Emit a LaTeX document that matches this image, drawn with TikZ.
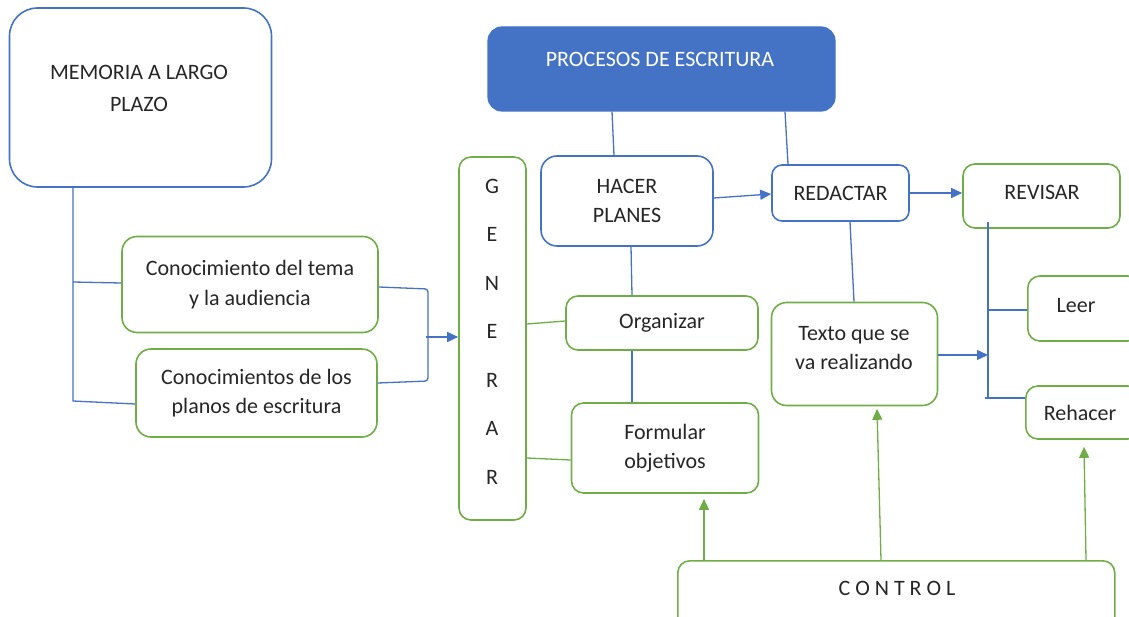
\documentclass[tikz,border=0pt]{standalone}
\usepackage{fontspec}
\setmainfont{Carlito}
\usetikzlibrary{arrows.meta,calc}
\definecolor{bl}{HTML}{4472C4}
\definecolor{gr}{HTML}{70AD47}
\definecolor{tx}{HTML}{262626}
\begin{document}
\begin{tikzpicture}[x=1pt,y=-1pt,
 box/.style={draw, rounded corners=12pt, line width=1.6pt, align=center, text=tx, font=\fontsize{22}{29.5}\selectfont, inner sep=0pt},
 bbox/.style={box, draw=bl},
 gbox/.style={box, draw=gr},
 txt/.style={align=center, text=tx, font=\fontsize{22}{29.5}\selectfont, inner sep=0pt},
 bline/.style={draw=bl, line width=1.3pt},
 gline/.style={draw=gr, line width=1.3pt},
 barr/.style={bline, -{Triangle[length=11pt,width=10pt]}},
 garr/.style={gline, -{Triangle[length=11pt,width=10pt]}},
]
\useasboundingbox (0,0) rectangle (1129,617);
\clip (0,0) rectangle (1129,617);

% boxes
\node[bbox, rounded corners=28pt, minimum width=262pt, minimum height=179pt] (mem) at (140.5,97.5) {};
\node[txt, font=\fontsize{22}{32}\selectfont] (memt) at (139,88) {MEMORIA A LARGO\\PLAZO};
\node[gbox, rounded corners=15pt, minimum width=256pt, minimum height=96pt] (k1) at (250,284.5) {Conocimiento del tema\\y la audiencia};
\node[gbox, rounded corners=15pt, minimum width=241pt, minimum height=88pt] (k2) at (256.5,393) {Conocimientos de los\\planos de escritura};
\node[gbox, minimum width=67pt, minimum height=363pt] (gen) at (492.5,338.5) {};
\node[txt, font=\fontsize{22}{48.5}\selectfont] (gent) at (492,331.5) {G\\E\\N\\E\\R\\A\\R};
\node[draw=bl, fill=bl, line width=1.2pt, rounded corners=14pt, minimum width=347pt, minimum height=84pt] (proc) at (661.5,69) {};
\node[txt, text=white] (proct) at (660,59) {PROCESOS DE ESCRITURA};
\node[bbox, rounded corners=16pt, minimum width=172pt, minimum height=90pt] (hacer) at (627,201) {HACER\\PLANES};
\node[bbox, rounded corners=10pt, minimum width=137pt, minimum height=56pt] (red) at (840.5,193) {REDACTAR};
\node[gbox, minimum width=157pt, minimum height=64pt] (rev) at (1041.5,196) {};
\node[txt] (revt) at (1042,192) {REVISAR};
\node[gbox, minimum width=192pt, minimum height=54pt] (org) at (662,323) {Organizar};
\node[gbox, minimum width=187pt, minimum height=90pt] (form) at (665,448) {Formular\\objetivos};
\node[gbox, rounded corners=15pt, minimum width=166pt, minimum height=103pt] (texto) at (854.5,354) {};
\node[txt] (textot) at (854,348) {Texto que se\\va realizando};
\node[gbox, minimum width=112pt, minimum height=65pt, anchor=west] (leer) at (1027,308.5) {};
\node[txt] (leert) at (1076,306) {Leer};
\node[gbox, minimum width=114pt, minimum height=53pt, anchor=west] (reh) at (1025,412.5) {};
\node[txt] (reht) at (1080,413) {Rehacer};
\node[gbox, minimum width=437pt, minimum height=80pt, anchor=north west] (ctrl) at (677,560) {};
\node[txt] (ctrlt) at (897,588) {C O N T R O L};

% left bracket
\draw[bline] (mem.south -| 73,0) -- (73,401) -- (k2.west |- 0,404);
\draw[bline] (73,282) -- (k1.west |- 0,283);
% right bracket
\draw[bline, rounded corners=3pt] (k1.east |- 0,287) -- (428,289) -- (428,381) -- (k2.east |- 0,383);
\draw[barr] (426,337) -- (gen.west |- 0,337);

% top
\draw[bline] (proc.south -| 612,0) -- (hacer.north -| 614,0);
\draw[bline] (proc.south -| 785,0) -- (red.north -| 788,0);
\draw[barr] (hacer.east |- 0,198) -- (red.west |- 0,194);
\draw[barr] (red.east) -- (rev.west |- red.east);
\draw[bline] (hacer.south -| 631,0) -- (org.north -| 632,0);
\draw[bline] (org.south -| 632,0) -- (form.north -| 632,0);
\draw[gline] (gen.east |- 0,324) -- (org.west |- 0,321);
\draw[gline] (gen.east |- 0,458) -- (form.west |- 0,460);
\draw[bline] (red.south -| 850,0) -- (texto.north -| 854,0);

% revisar branch
\draw[barr] (texto.east |- 0,355) -- (988,355);
\draw[bline] (988,222) -- (988,398);
\draw[bline] (988,310) -- (leer.west |- 0,310);
\draw[bline] (985,398) -- (reh.west |- 0,398);

% control arrows
\draw[garr] (ctrl.north -| 704,0) -- ($(form.south -| 704,0)+(0,5)$);
\draw[garr] (ctrl.north -| 881,0) -- ($(texto.south -| 877,0)+(0,2.5)$);
\draw[garr] (ctrl.north -| 1086,0) -- ($(reh.south -| 1084,0)+(0,7)$);
\end{tikzpicture}
\end{document}
